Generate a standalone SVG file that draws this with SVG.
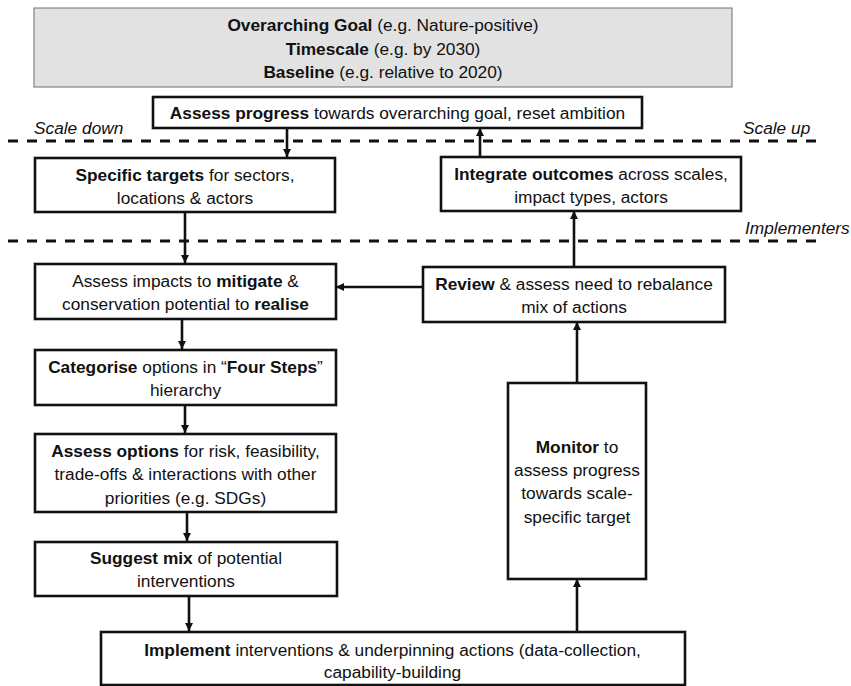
<svg xmlns="http://www.w3.org/2000/svg" width="851" height="686" viewBox="0 0 851 686">
<defs>
<style>
.t{font-family:"Liberation Sans",Arial,sans-serif;font-size:17.3px;fill:#111;text-anchor:middle}
.b{font-weight:bold}
.i{font-family:"Liberation Sans",Arial,sans-serif;font-size:17.3px;font-style:italic;fill:#111}
.box{fill:#fff;stroke:#111;stroke-width:2.6}
.goal{fill:#e2e2e2;stroke:#6e6e6e;stroke-width:1}
.dash{stroke:#111;stroke-width:3;stroke-dasharray:10 9;fill:none}
.c{stroke:#111;stroke-width:2.6;fill:none;marker-end:url(#ah)}
</style>
<marker id="ah" viewBox="0 0 8 8" refX="8" refY="4" markerWidth="8" markerHeight="8" markerUnits="userSpaceOnUse" orient="auto">
<path d="M0,0 L8,4 L0,8 z" fill="#111"/>
</marker>
</defs>
<rect width="851" height="686" fill="#fff"/>
<g id="dividers">
<line class="dash" x1="8" y1="141" x2="817" y2="141"/>
<line class="dash" x1="8" y1="241" x2="817" y2="241"/>
<text class="i" x="34" y="134">Scale down</text>
<text class="i" x="743" y="134">Scale up</text>
<text class="i" x="745" y="234">Implementers</text>
</g>
<g id="goal">
<rect class="goal" x="34" y="8" width="698" height="79"/>
<text class="t" x="383" y="30.5"><tspan class="b">Overarching Goal</tspan> (e.g. Nature-positive)</text>
<text class="t" x="383" y="54.5"><tspan class="b">Timescale</tspan> (e.g. by 2030)</text>
<text class="t" x="383" y="77.5"><tspan class="b">Baseline</tspan> (e.g. relative to 2020)</text>
</g>
<g id="assess-progress">
<rect class="box" x="153" y="97" width="489" height="31"/>
<text class="t" x="397.5" y="119"><tspan class="b">Assess progress</tspan> towards overarching goal, reset ambition</text>
</g>
<g id="specific-targets">
<rect class="box" x="35" y="158" width="300" height="54"/>
<text class="t" x="185" y="180.5"><tspan class="b">Specific targets</tspan> for sectors,</text>
<text class="t" x="185" y="203.5">locations &amp; actors</text>
</g>
<g id="integrate-outcomes">
<rect class="box" x="441" y="157" width="300" height="54"/>
<text class="t" x="591" y="179.5"><tspan class="b">Integrate outcomes</tspan> across scales,</text>
<text class="t" x="591" y="202.5">impact types, actors</text>
</g>
<g id="assess-impacts">
<rect class="box" x="35" y="264" width="301" height="55"/>
<text class="t" x="185.5" y="286.5">Assess impacts to <tspan class="b">mitigate</tspan> &amp;</text>
<text class="t" x="185.5" y="309.5">conservation potential to <tspan class="b">realise</tspan></text>
</g>
<g id="review">
<rect class="box" x="423" y="267" width="302" height="55"/>
<text class="t" x="574" y="289.5"><tspan class="b">Review</tspan> &amp; assess need to rebalance</text>
<text class="t" x="574" y="312.5">mix of actions</text>
</g>
<g id="categorise">
<rect class="box" x="35" y="350" width="301" height="55"/>
<text class="t" x="185.5" y="372.5"><tspan class="b">Categorise</tspan> options in “<tspan class="b">Four Steps</tspan>”</text>
<text class="t" x="185.5" y="395.5">hierarchy</text>
</g>
<g id="assess-options">
<rect class="box" x="35" y="434" width="301" height="78"/>
<text class="t" x="185.5" y="456.5"><tspan class="b">Assess options</tspan> for risk, feasibility,</text>
<text class="t" x="185.5" y="480">trade-offs &amp; interactions with other</text>
<text class="t" x="185.5" y="503.5">priorities (e.g. SDGs)</text>
</g>
<g id="suggest-mix">
<rect class="box" x="35" y="542" width="302" height="54"/>
<text class="t" x="186" y="564"><tspan class="b">Suggest mix</tspan> of potential</text>
<text class="t" x="186" y="587">interventions</text>
</g>
<g id="monitor">
<rect class="box" x="508" y="383" width="138" height="196"/>
<text class="t" x="577" y="452.5"><tspan class="b">Monitor</tspan> to</text>
<text class="t" x="577" y="475.5">assess progress</text>
<text class="t" x="577" y="499">towards scale-</text>
<text class="t" x="577" y="522.5">specific target</text>
</g>
<g id="implement">
<rect class="box" x="101" y="632" width="584" height="53"/>
<text class="t" x="392.5" y="655.5"><tspan class="b">Implement</tspan> interventions &amp; underpinning actions (data-collection,</text>
<text class="t" x="392.5" y="678">capability-building</text>
</g>
<g id="connectors">
<line class="c" x1="287" y1="128" x2="287" y2="157"/>
<line class="c" x1="480" y1="157" x2="480" y2="128"/>
<line class="c" x1="185" y1="212" x2="185" y2="263"/>
<line class="c" x1="574" y1="267" x2="574" y2="211"/>
<line class="c" x1="423" y1="287" x2="336" y2="287"/>
<line class="c" x1="182" y1="319" x2="182" y2="349"/>
<line class="c" x1="185" y1="405" x2="185" y2="433"/>
<line class="c" x1="187" y1="512" x2="187" y2="541"/>
<line class="c" x1="189" y1="596" x2="189" y2="631"/>
<line class="c" x1="577" y1="383" x2="577" y2="322"/>
<line class="c" x1="577" y1="632" x2="577" y2="579"/>
</g>
</svg>
